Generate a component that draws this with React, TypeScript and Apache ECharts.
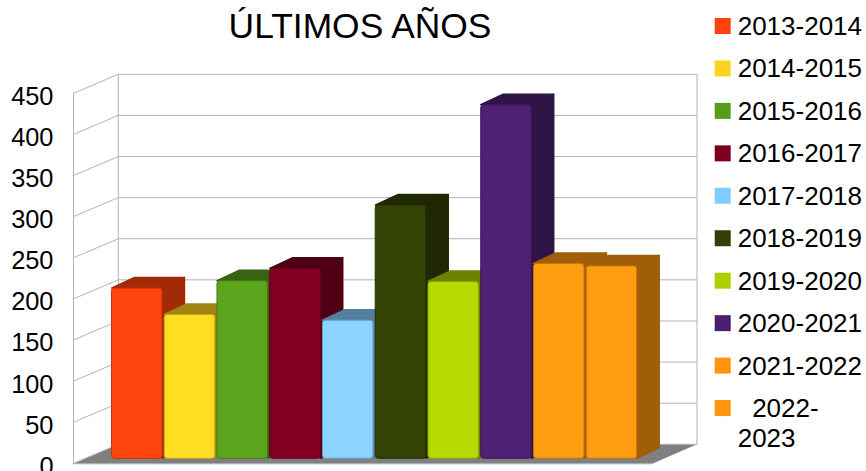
import React, { useEffect, useRef } from "react";
import * as echarts from "echarts";

const chartTitle = "ÚLTIMOS AÑOS";
const seasons = ["2013-2014", "2014-2015", "2015-2016", "2016-2017", "2017-2018", "2018-2019", "2019-2020", "2020-2021", "2021-2022", "2022-2023"];
const values = [207, 175, 216, 231, 168, 308, 215, 430, 237, 234];
const colors = ["#ff420e", "#ffd320", "#579d1c", "#7e0021", "#83caff", "#314004", "#aecf00", "#4b1f6f", "#ff950e", "#ff950e"];
const ticks = [0, 50, 100, 150, 200, 250, 300, 350, 400, 450];
const wrappedLegendFirst = "  2022-";
const wrappedLegendSecond = "2023";

const FONT = "'Liberation Sans', Arial, sans-serif";
const WALL = "#b3b3b3";
const WALL_DX = 44.8;
const WALL_DY = -19;
const AXIS_OFFSET = 36.85;
const BAR_LIFT = 5;
const BAR_W = 50.5;
const DEPTH_DX = 22.5;
const DEPTH_DY = -10.5;

function shade(hex: string, k: number): string {
  const n = parseInt(hex.slice(1), 16);
  const c = (v: number) => Math.min(255, Math.round(v * k));
  return `rgb(${c((n >> 16) & 255)},${c((n >> 8) & 255)},${c(n & 255)})`;
}

function renderWall(params: any, api: any) {
  const v = api.value(0);
  const cs = params.coordSys;
  const x0 = cs.x - AXIS_OFFSET;
  const y = api.coord([0, v])[1];
  const xBack = x0 + WALL_DX;
  const yBack = y + WALL_DY;
  const xEnd = cs.x + cs.width + 59.15;
  const lineStyle = { stroke: WALL, lineWidth: 1, fill: "none" };
  const children: any[] = [
    { type: "polyline", shape: { points: [[x0, y], [xBack, yBack], [xEnd, yBack]] }, style: lineStyle },
  ];
  if (v === 0) {
    const top = api.coord([0, 450])[1];
    children.unshift({
      type: "polygon",
      shape: { points: [[x0, y + 0.5], [xBack, yBack], [xEnd, yBack], [xEnd - WALL_DX, y + 0.5]] },
      style: { fill: "#808080" },
    });
    children.push(
      { type: "line", shape: { x1: xBack, y1: yBack, x2: xBack, y2: top + WALL_DY }, style: lineStyle },
      { type: "line", shape: { x1: xEnd, y1: yBack, x2: xEnd, y2: top + WALL_DY }, style: lineStyle },
      { type: "line", shape: { x1: x0, y1: top, x2: x0, y2: y + 0.5 }, style: lineStyle },
      { type: "line", shape: { x1: x0, y1: y + 0.5, x2: xEnd - WALL_DX, y2: y + 0.5 }, style: lineStyle }
    );
  }
  return { type: "group", children };
}

function renderBar(_: any, api: any) {
  const color = api.visual("color");
  const center = api.coord([api.value(0), api.value(1)]);
  const base = api.coord([api.value(0), 0]);
  const left = center[0] - BAR_W / 2;
  const right = left + BAR_W;
  const top = center[1] - BAR_LIFT;
  const bottom = base[1] - BAR_LIFT;
  const dark = shade(color, 0.63);
  const edge = shade(color, 0.78);
  const facet = { fill: dark, stroke: dark, lineWidth: 1.5, lineJoin: "round" };
  return {
    type: "group",
    children: [
      {
        type: "polygon",
        shape: { points: [[right, top], [right + DEPTH_DX, top + DEPTH_DY], [right + DEPTH_DX, bottom + DEPTH_DY], [right, bottom]] },
        style: facet,
      },
      {
        type: "polygon",
        shape: { points: [[left, top], [left + DEPTH_DX, top + DEPTH_DY], [right + DEPTH_DX, top + DEPTH_DY], [right, top]] },
        style: facet,
      },
      {
        type: "rect",
        shape: { x: left, y: top, width: BAR_W, height: bottom - top, r: 3 },
        style: { fill: shade(color, 1.05), stroke: edge, lineWidth: 1 },
      },
    ],
  };
}

export default function App() {
  const ref = useRef<HTMLDivElement>(null);
  useEffect(() => {
    const chart = echarts.init(ref.current!, undefined, { renderer: "svg" });
    chart.setOption({
      animation: false,
      backgroundColor: "#ffffff",
      title: {
        text: chartTitle,
        left: 355,
        top: 3,
        textAlign: "center",
        textStyle: { fontFamily: FONT, fontSize: 35.4, fontWeight: "normal", color: "#000000" },
      },
      legend: {
        orient: "vertical",
        left: 714.7,
        top: 11,
        padding: 0,
        height: 600,
        icon: "rect",
        itemWidth: 16,
        itemHeight: 16,
        itemGap: 12.45,
        data: seasons,
        selectedMode: false,
        formatter: (name: string) => (name === "2022-2023" ? wrappedLegendFirst : name),
        textStyle: { fontFamily: FONT, fontSize: 26, lineHeight: 30, color: "#000000", padding: [0, 0, 0, 2] },
      },
      graphic: [
        {
          type: "text",
          left: 737.7,
          top: 423,
          style: { text: wrappedLegendSecond, fontFamily: FONT, fontSize: 26, lineHeight: 30, fill: "#000000" },
        },
      ],
      grid: { left: 110.35, top: 93.3, width: 527.5, height: 370, outerBoundsMode: "none" },
      xAxis: { type: "category", data: seasons, show: false },
      yAxis: {
        type: "value",
        min: 0,
        max: 450,
        interval: 50,
        offset: AXIS_OFFSET,
        axisLine: { show: false },
        axisTick: { show: false },
        splitLine: { show: false },
        axisLabel: { fontFamily: FONT, fontSize: 25.4, color: "#000000", margin: 20, verticalAlign: "top", lineHeight: 5 },
      },
      series: [
        {
          type: "custom",
          name: "walls",
          silent: true,
          data: ticks.map((t) => [t]),
          encode: { y: 0 },
          renderItem: renderWall,
        },
        ...seasons.map((name, i) => ({
          type: "custom",
          name,
          itemStyle: { color: colors[i] },
          data: [[i, values[i]]],
          encode: { x: 0, y: 1 },
          renderItem: renderBar,
        })),
      ],
    });
    return () => chart.dispose();
  }, []);
  return <div ref={ref} style={{ position: "absolute", left: 0, top: 0, width: 866, height: 471 }} />;
}
